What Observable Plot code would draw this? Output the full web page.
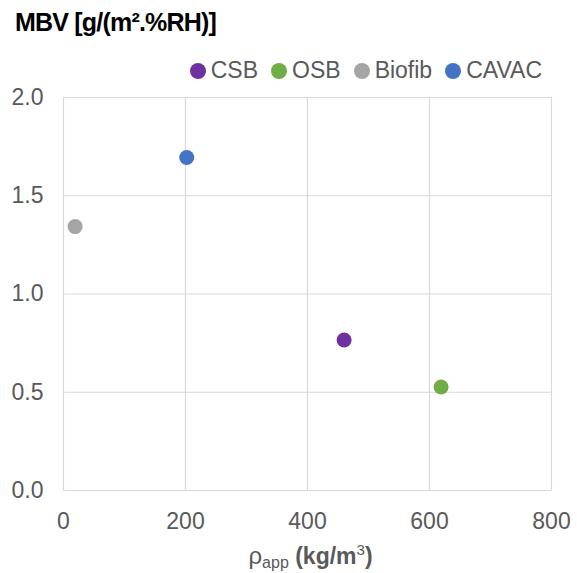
<!DOCTYPE html>
<html>
<head>
<meta charset="utf-8">
<script src="https://cdn.jsdelivr.net/npm/d3@7"></script>
<script src="https://cdn.jsdelivr.net/npm/@observablehq/plot@0.6"></script>
<style>
  html, body { margin: 0; padding: 0; background: #fff; }
  #wrap { position: relative; width: 577px; height: 573px; font-family: "Liberation Sans", Arial, sans-serif; }
  #title { position: absolute; left: 15px; top: 10px; font-size: 25px; line-height: 25px; font-weight: bold; color: #000; letter-spacing: -0.8px; white-space: nowrap; }
  #legend { position: absolute; right: 35px; top: 59px; font-size: 23px; line-height: 23px; color: #595959; display: flex; gap: 13px; white-space: nowrap; }
  #legend span.item { display: flex; align-items: center; gap: 5px; }
  #legend span.sw { display: inline-block; width: 16px; height: 16px; border-radius: 50%; }
  #xlabel { position: absolute; left: 0; width: 577px; top: 544px; line-height: 23px; text-align: center; font-size: 23px; font-weight: bold; color: #595959; padding-left: 44px; box-sizing: border-box; white-space: nowrap; }
  #xlabel .rho { font-weight: normal; font-size: 24px; }
  #xlabel sub { font-size: 16px; font-weight: normal; vertical-align: -4px; line-height: 0; }
  #xlabel sup { font-size: 15px; font-weight: normal; vertical-align: 9px; line-height: 0; }
  #chart { position: absolute; left: 0; top: 0; }
</style>
</head>
<body>
<div id="wrap">
  <div id="chart"></div>
  <div id="title">MBV [g/(m².%RH)]</div>
  <div id="legend"></div>
  <div id="xlabel"><span class="rho">ρ</span><sub>app</sub> (kg/m<sup>3</sup>)</div>
</div>
<script>
const materials = ["CSB", "OSB", "Biofib", "CAVAC"];
const density = [460, 619, 19, 202];
const mbv = [0.766, 0.527, 1.343, 1.695];
const colors = ["#7030a0", "#70ad47", "#a5a5a5", "#4472c4"];
const xTicks = [0, 200, 400, 600, 800];
const yTicks = [0, 0.5, 1.0, 1.5, 2.0];

const data = materials.map((m, i) => ({ material: m, x: density[i], y: mbv[i] }));

const chart = Plot.plot({
  width: 577,
  height: 573,
  marginTop: 97,
  marginLeft: 63,
  marginRight: 26,
  marginBottom: 83,
  style: { fontFamily: "Liberation Sans, Arial, sans-serif", fontSize: "23px", color: "#595959", background: "#fff" },
  x: { domain: [0, 800], ticks: xTicks, label: null },
  y: { domain: [0, 2], ticks: yTicks, label: null },
  color: { domain: materials, range: colors },
  marks: [
    Plot.gridX(xTicks, { stroke: "#d9d9d9", strokeOpacity: 1, strokeWidth: 1.2 }),
    Plot.gridY(yTicks, { stroke: "#d9d9d9", strokeOpacity: 1, strokeWidth: 1.2 }),
    Plot.axisX({ ticks: xTicks, tickSize: 0, tickPadding: 22, label: null, fill: "#595959" }),
    Plot.axisY({ ticks: yTicks, tickSize: 0, tickPadding: 20, tickFormat: d3.format(".1f"), label: null, fill: "#595959" }),
    Plot.dot(data, { x: "x", y: "y", fill: "material", r: 7.5 })
  ]
});
document.getElementById("chart").appendChild(chart);

const legend = document.getElementById("legend");
materials.forEach((m, i) => {
  const item = document.createElement("span");
  item.className = "item";
  const sw = document.createElement("span");
  sw.className = "sw";
  sw.style.background = colors[i];
  item.appendChild(sw);
  item.appendChild(document.createTextNode(m));
  legend.appendChild(item);
});
</script>
</body>
</html>
